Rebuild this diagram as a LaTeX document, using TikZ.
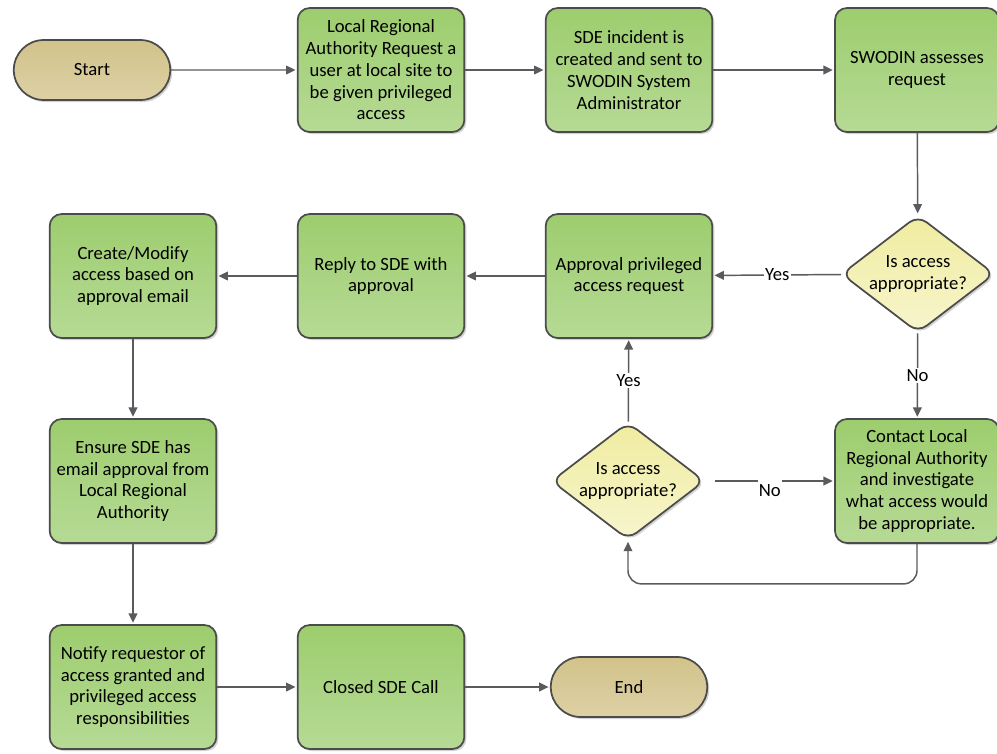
\documentclass[tikz,border=0pt]{standalone}
\usepackage{fontspec}
\setmainfont{Carlito}
\usetikzlibrary{shapes.geometric,shapes.misc,shadows,arrows.meta}
\definecolor{boxgreen}{HTML}{9DCD6E}
\definecolor{boxgreenlight}{HTML}{B6DA95}
\definecolor{termtan}{HTML}{D2C38B}
\definecolor{termtanlight}{HTML}{DDD0A4}
\definecolor{decyellow}{HTML}{F0ECA0}
\definecolor{decyellowlight}{HTML}{F7F5CD}
\definecolor{edgegray}{HTML}{4B4B4B}
\definecolor{linegray}{HTML}{5A5A5F}
\tikzset{every node/.style={font=\fontsize{14}{16.3}\selectfont, align=center, text=black}}
\tikzset{
  process/.style={draw=edgegray, line width=1.3pt, rounded corners=9pt,
    top color=boxgreen, bottom color=boxgreenlight,
    minimum width=125pt, minimum height=93pt, inner sep=2pt,
    drop shadow={shadow xshift=1.5pt, shadow yshift=-1.5pt, fill=black!35, opacity=0.5}},
  terminal/.style={rounded rectangle, draw=edgegray, line width=1.3pt,
    top color=termtan, bottom color=termtanlight,
    minimum width=124pt, minimum height=45pt,
    drop shadow={shadow xshift=1.5pt, shadow yshift=-1.5pt, fill=black!35, opacity=0.5}},
  decision/.style={diamond, aspect=1.4, draw=edgegray, line width=1.3pt, rounded corners=8pt,
    top color=decyellow, bottom color=decyellowlight,
    minimum width=115pt, minimum height=88pt, inner sep=0pt,
    drop shadow={shadow xshift=1.5pt, shadow yshift=-1.5pt, fill=black!35, opacity=0.5}},
  flow/.style={draw=linegray, line width=1.1pt, shorten >=1pt,
    -{Triangle[length=7pt,width=6.5pt]}},
  answer/.style={fill=white, inner sep=1pt}
}

\begin{document}
\begin{tikzpicture}[x=0.75pt,y=-0.75pt]
  \useasboundingbox (0,0) rectangle (997,754);
  \node[terminal] (start)    at ( 92, 70) {Start};
  \node[process]  (request)  at (381, 70) {Local Regional\\Authority Request a\\user at local site to\\be given privileged\\access};
  \node[process]  (incident) at (629, 70) {SDE incident is\\created and sent to\\SWODIN System\\Administrator};
  \node[process, minimum width=123pt] (assess) at (917, 70) {SWODIN assesses\\request};
  \node[decision] (check)    at (918,274) {Is access\\appropriate?};
  \node[process]  (approve)  at (629,276) {Approval privileged\\access request};
  \node[process]  (reply)    at (381,276) {Reply to SDE with\\approval};
  \node[process]  (modify)   at (133,276) {Create/Modify\\access based on\\approval email};
  \node[process]  (ensure)   at (133,481) {Ensure SDE has\\email approval from\\Local Regional\\Authority};
  \node[process, minimum width=123pt] (contact) at (917,481) {Contact Local\\Regional Authority\\and investigate\\what access would\\be appropriate.};
  \node[decision] (recheck)  at (628,481) {Is access\\appropriate?};
  \node[process]  (notify)   at (133,687) {Notify requestor of\\access granted and\\privileged access\\responsibilities};
  \node[process]  (closed)   at (381,687) {Closed SDE Call};
  \node[terminal] (finish)   at (629,687) {End};

  \draw[flow] (start) -- (request);
  \draw[flow] (request) -- (incident);
  \draw[flow] (incident) -- (assess);
  \draw[flow] (assess) -- (check);
  \draw[flow] (check) -- node[answer] {Yes} (approve);
  \draw[flow] (check) -- node[answer] {No} (contact);
  \draw[flow, shorten <=7pt] (recheck) -- node[answer, anchor=north, yshift=1pt, inner ysep=3pt] {No} (contact);
  \draw[flow] (recheck) -- node[answer] {Yes} (approve);
  \draw[flow, rounded corners=10pt] (contact.south) -- ++(0,40) -| (recheck.south);
  \draw[flow] (approve) -- (reply);
  \draw[flow] (reply) -- (modify);
  \draw[flow] (modify) -- (ensure);
  \draw[flow] (ensure) -- (notify);
  \draw[flow] (notify) -- (closed);
  \draw[flow] (closed) -- (finish);
\end{tikzpicture}
\end{document}
